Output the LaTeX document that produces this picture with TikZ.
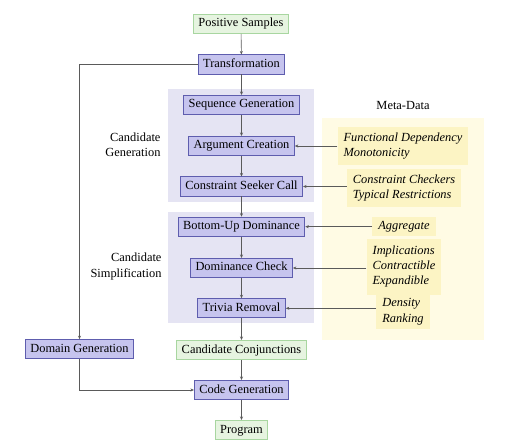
\documentclass[tikz,border=0pt]{standalone}
\usepackage{fontspec}
\setmainfont{Liberation Serif}
\usetikzlibrary{arrows.meta}
\definecolor{procfill}{HTML}{C6C4EE}
\definecolor{procdraw}{HTML}{5E5DAE}
\definecolor{iofill}{HTML}{E6F4E0}
\definecolor{iodraw}{HTML}{A8D6A0}
\definecolor{grpfill}{HTML}{E5E4F3}
\definecolor{metabg}{HTML}{FFFBE4}
\definecolor{metafill}{HTML}{FCF4C4}
\definecolor{linecol}{HTML}{5A5A5A}
\tikzset{
  base/.style={font=\fontsize{12.4}{15.3}\selectfont, inner xsep=5pt, inner ysep=4pt, text height=8.6pt, text depth=2.6pt, line width=0.8pt},
  proc/.style={base, draw=procdraw, fill=procfill},
  io/.style={base, draw=iodraw, fill=iofill},
  meta/.style={font=\fontsize{12.4}{15.3}\selectfont\itshape, fill=metafill, align=left, inner xsep=6pt, inner ysep=6pt},
  lbl/.style={font=\fontsize{12.4}{15.3}\selectfont, align=right},
  arr/.style={draw=linecol, line width=0.6pt, -{Stealth[length=3.5pt,width=3pt]}}
}
\begin{document}
\begin{tikzpicture}[x=1pt,y=-1pt]
\useasboundingbox (0,0) rectangle (514,446);
% backgrounds
\fill[grpfill] (168,89) rectangle (314,202);
\fill[grpfill] (168,212) rectangle (314,323);
\fill[metabg] (322,118) rectangle (484,340);
% main flow
\node[io] (ps) at (241,24) {Positive Samples};
\node[proc] (tr) at (241.5,64.5) {Transformation};
\node[proc] (sg) at (241.5,105) {Sequence Generation};
\node[proc] (ac) at (241.5,146) {Argument Creation};
\node[proc] (cs) at (241.5,186.5) {Constraint Seeker Call};
\node[proc] (bu) at (241.5,226.7) {Bottom-Up Dominance};
\node[proc] (dc) at (241.5,268) {Dominance Check};
\node[proc] (trv) at (241.5,308.3) {Trivia Removal};
\node[io] (cc) at (241.5,350) {Candidate Conjunctions};
\node[proc] (dg) at (79.5,349.2) {Domain Generation};
\node[proc] (cg) at (241.5,390) {Code Generation};
\node[io] (prog) at (241.5,430) {Program};
% labels
\node[lbl, anchor=east] (lg) at (164,145) {Candidate\\Generation};
\node[lbl, anchor=east] (ls) at (165,266.5) {Candidate\\Simplification};
\node[font=\fontsize{12.4}{15.3}\selectfont] (md) at (403,105.5) {Meta-Data};
% meta boxes
\node[meta] (m1) at (403,146) {Functional Dependency\\Monotonicity};
\node[meta] (m2) at (404,188) {Constraint Checkers\\Typical Restrictions};
\node[meta, inner ysep=4pt] (m3) at (404,226.5) {Aggregate};
\node[meta, inner ysep=7pt] (m4) at (404,266.7) {Implications\\Contractible\\Expandible};
\node[meta, inner ysep=4pt] (m5) at (403,311.7) {Density\\Ranking};
% connectors
\draw[arr] (ps) -- (tr);
\draw[arr] (tr) -- (sg);
\draw[arr] (sg) -- (ac);
\draw[arr] (ac) -- (cs);
\draw[arr] (cs) -- (bu);
\draw[arr] (bu) -- (dc);
\draw[arr] (dc) -- (trv);
\draw[arr] (trv) -- (cc);
\draw[arr] (cc) -- (cg);
\draw[arr] (cg) -- (prog);
\draw[arr] (tr.west) -| (dg.north);
\draw[arr] (dg.south) |- (cg.west);
\draw[arr] (m1.west |- ac.east) -- (ac.east);
\draw[arr] (m2.west |- cs.east) -- (cs.east);
\draw[arr] (m3.west |- bu.east) -- (bu.east);
\draw[arr] (m4.west |- dc.east) -- (dc.east);
\draw[arr] (m5.west |- trv.east) -- (trv.east);
\end{tikzpicture}
\end{document}
